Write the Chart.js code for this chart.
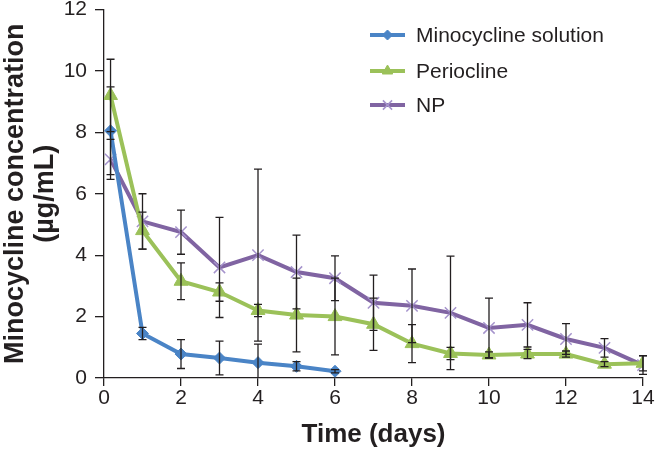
<!DOCTYPE html>
<html>
<head>
<meta charset="utf-8">
<script src="https://cdn.jsdelivr.net/npm/chart.js@4/dist/chart.umd.min.js"></script>
<style>
html,body{margin:0;padding:0;background:#fff;}
#wrap{width:655px;height:450px;position:relative;}
</style>
</head>
<body>
<div id="wrap"><canvas id="c" width="655" height="450"></canvas></div>
<script>
// ---- data ----
const timesSolution = [0.17, 1, 2, 3, 4, 5, 6];
const timesLong = [0.17, 1, 2, 3, 4, 5, 6, 7, 8, 9, 10, 11, 12, 13, 14];
const solutionValues = [8.05, 1.45, 0.78, 0.65, 0.5, 0.38, 0.22];
const solutionErrors = [1.43, 0.2, 0.47, 0.55, 0.6, 0.15, 0.05];
const perioclineValues = [9.2, 4.8, 3.15, 2.8, 2.2, 2.05, 2.0, 1.75, 1.12, 0.8, 0.75, 0.78, 0.78, 0.45, 0.48];
const perioclineErrors = [1.18, 0.6, 0.6, 0.3, 0.2, 1.2, 1.25, 0.85, 0.62, 0.2, 0.1, 0.15, 0.1, 0.08, 0.25];
const npValues = [7.12, 5.1, 4.75, 3.6, 4.0, 3.45, 3.25, 2.45, 2.35, 2.12, 1.63, 1.73, 1.27, 0.98, 0.42];
const npErrors = [0.65, 0.9, 0.72, 1.63, 2.8, 1.2, 0.73, 0.9, 1.2, 1.85, 0.97, 0.72, 0.5, 0.3, 0.3];
const seriesLabels = ['Minocycline solution', 'Periocline', 'NP'];
const xTicks = [0, 2, 4, 6, 8, 10, 12, 14];
const yTicks = [0, 2, 4, 6, 8, 10, 12];

const TEXT = '#231f20';
const FONT = '"Liberation Sans", Arial, sans-serif';

function pts(xs, ys) { return xs.map((x, i) => ({x: x, y: ys[i]})); }

const errorBarPlugin = {
  id: 'errorBars',
  afterDatasetsDraw(chart) {
    const ctx = chart.ctx;
    const xs = chart.scales.x, ys = chart.scales.y;
    const area = chart.chartArea;
    ctx.save();
    ctx.strokeStyle = TEXT;
    ctx.lineWidth = 1.3;
    chart.data.datasets.forEach(ds => {
      const errs = ds.errors;
      ds.data.forEach((p, i) => {
        const e = errs[i];
        if (!e) return;
        const px = xs.getPixelForValue(p.x);
        let top = ys.getPixelForValue(p.y + e);
        let bot = ys.getPixelForValue(p.y - e);
        const capTop = top >= area.top - 0.5;
        const capBot = bot <= area.bottom + 0.5;
        top = Math.max(top, area.top);
        bot = Math.min(bot, area.bottom);
        ctx.beginPath();
        ctx.moveTo(px, top); ctx.lineTo(px, bot);
        if (capTop) { ctx.moveTo(px - 4, top); ctx.lineTo(px + 4, top); }
        if (capBot) { ctx.moveTo(px - 4, bot); ctx.lineTo(px + 4, bot); }
        ctx.stroke();
      });
    });
    ctx.restore();
  }
};

function drawMarker(ctx, style, r, x, y) {
  ctx.beginPath();
  if (style === 'rectRot') {
    ctx.moveTo(x, y - r); ctx.lineTo(x + r, y); ctx.lineTo(x, y + r); ctx.lineTo(x - r, y); ctx.closePath();
    ctx.fill(); ctx.stroke();
  } else if (style === 'triangle') {
    ctx.moveTo(x, y - r); ctx.lineTo(x + r * 0.87, y + r * 0.5); ctx.lineTo(x - r * 0.87, y + r * 0.5); ctx.closePath();
    ctx.fill(); ctx.stroke();
  } else if (style === 'crossRot') {
    const d = r * 0.707;
    ctx.moveTo(x - d, y - d); ctx.lineTo(x + d, y + d);
    ctx.moveTo(x + d, y - d); ctx.lineTo(x - d, y + d);
    ctx.stroke();
  }
}

const legendPlugin = {
  id: 'customLegend',
  afterDraw(chart) {
    const ctx = chart.ctx;
    ctx.save();
    const rows = [35, 71, 105];
    const legendRadius = [5, 6, 6.5];
    chart.data.datasets.forEach((ds, i) => {
      const y = rows[i];
      ctx.strokeStyle = ds.borderColor;
      ctx.lineWidth = 4;
      ctx.beginPath();
      ctx.moveTo(370, y); ctx.lineTo(405, y);
      ctx.stroke();
      ctx.fillStyle = ds.pointBackgroundColor;
      ctx.strokeStyle = ds.pointBorderColor;
      ctx.lineWidth = ds.pointBorderWidth;
      drawMarker(ctx, ds.pointStyle, legendRadius[i], 387.5, y);
      ctx.fillStyle = TEXT;
      ctx.font = '21px ' + FONT;
      ctx.textBaseline = 'middle';
      ctx.textAlign = 'left';
      ctx.fillText(ds.label, 416, y + 1);
    });
    ctx.restore();
  }
};

const BLUE = '#4a84c6', GREEN = '#9bc159', PURPLE = '#8064a2';

const chart = new Chart(document.getElementById('c'), {
  type: 'line',
  data: {
    datasets: [
      {
        label: seriesLabels[0], data: pts(timesSolution, solutionValues), errors: solutionErrors,
        borderColor: BLUE, backgroundColor: BLUE, borderWidth: 4,
        pointStyle: 'rectRot', pointRadius: 6, pointBackgroundColor: BLUE, pointBorderColor: BLUE, pointBorderWidth: 1
      },
      {
        label: seriesLabels[1], data: pts(timesLong, perioclineValues), errors: perioclineErrors,
        borderColor: GREEN, backgroundColor: GREEN, borderWidth: 4,
        pointStyle: 'triangle', pointRadius: 8, pointBackgroundColor: GREEN, pointBorderColor: GREEN, pointBorderWidth: 1
      },
      {
        label: seriesLabels[2], data: pts(timesLong, npValues), errors: npErrors,
        borderColor: PURPLE, backgroundColor: PURPLE, borderWidth: 4,
        pointStyle: 'crossRot', pointRadius: 8, pointBackgroundColor: '#a593cc', pointBorderColor: '#a593cc', pointBorderWidth: 1.5
      }
    ]
  },
  options: {
    responsive: false,
    animation: false,
    events: [],
    layout: {padding: {left: 0, top: 9, right: 12, bottom: 0}},
    elements: {line: {tension: 0}},
    plugins: {legend: {display: false}, tooltip: {enabled: false}},
    scales: {
      x: {
        type: 'linear', min: 0, max: 14,
        afterBuildTicks(scale) { scale.ticks = xTicks.map(v => ({value: v})); },
        afterFit(scale) { scale.height = 72; scale.paddingLeft = 0; scale.paddingRight = 0; },
        grid: {drawOnChartArea: false, drawTicks: true, tickLength: 8, color: TEXT, lineWidth: 1.3},
        border: {display: true, color: TEXT, width: 1.3},
        ticks: {color: TEXT, font: {family: FONT, size: 21}, padding: 0, maxRotation: 0},
        title: {display: true, text: 'Time (days)', color: TEXT, font: {family: FONT, size: 26, weight: 'bold'}, padding: {top: 6, bottom: 0}}
      },
      y: {
        type: 'linear', min: 0, max: 12,
        afterBuildTicks(scale) { scale.ticks = yTicks.map(v => ({value: v})); },
        afterFit(scale) { scale.width = 104; scale.paddingTop = 0; scale.paddingBottom = 0; },
        grid: {drawOnChartArea: false, drawTicks: true, tickLength: 9, color: TEXT, lineWidth: 1.3},
        border: {display: true, color: TEXT, width: 1.3},
        ticks: {color: TEXT, font: {family: FONT, size: 21}, padding: 8},
        title: {display: true, text: ['Minocycline concentration', '(µg/mL)'], color: TEXT, font: {family: FONT, size: 27, weight: 'bold', lineHeight: 1.12}, padding: {top: 0, bottom: 0}}
      }
    }
  },
  plugins: [errorBarPlugin, legendPlugin]
});
</script>
</body>
</html>
